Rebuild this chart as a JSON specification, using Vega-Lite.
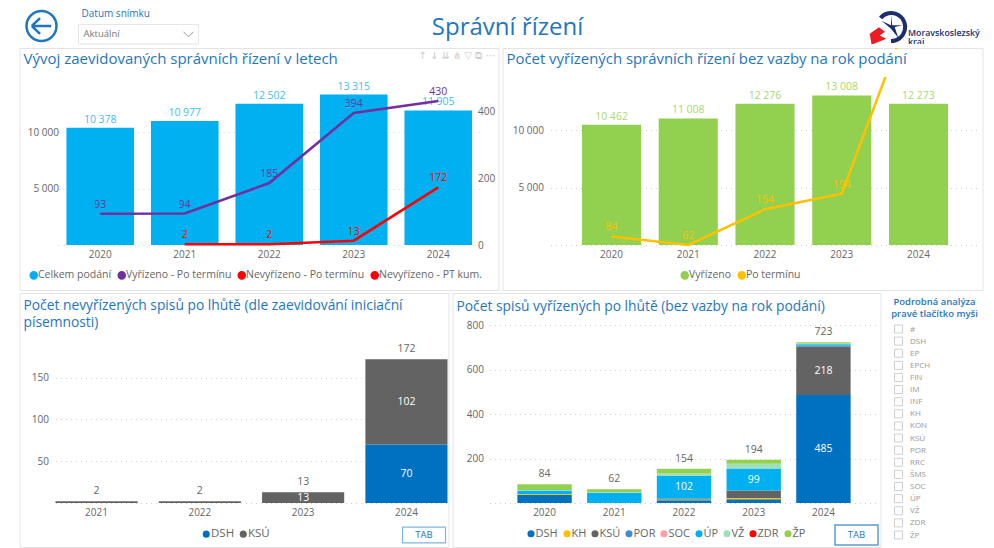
{
"$schema":"https://vega.github.io/schema/vega-lite/v6.json",
"padding":{"left":18.5,"top":-3,"right":0,"bottom":0},
"background":"white",
"spacing":1,
"bounds":"full",
"resolve":{"scale":{"color":"independent"},"legend":{"color":"independent"}},
"config":{
 "font":"Open Sans",
 "view":{"stroke":null},
 "axis":{"domain":false,"ticks":false,"title":null,"labelFont":"Open Sans","labelFontSize":10,"labelColor":"#666666","grid":false},
 "legend":{"labelFont":"Open Sans","labelFontSize":10.5,"labelColor":"#666666"},
 "text":{"font":"Open Sans"},
 "title":{"font":"Open Sans"}
},
"datasets":{
 "p1bars":[
  {"year":"2020","series":"Celkem podání","value":10378,"label":"10 378"},
  {"year":"2021","series":"Celkem podání","value":10977,"label":"10 977"},
  {"year":"2022","series":"Celkem podání","value":12502,"label":"12 502"},
  {"year":"2023","series":"Celkem podání","value":13315,"label":"13 315"},
  {"year":"2024","series":"Celkem podání","value":11905,"label":"11 905"}],
 "p1lines":[
  {"year":"2020","series":"Vyřízeno - Po termínu","value":93},
  {"year":"2021","series":"Vyřízeno - Po termínu","value":94},
  {"year":"2022","series":"Vyřízeno - Po termínu","value":185},
  {"year":"2023","series":"Vyřízeno - Po termínu","value":394},
  {"year":"2024","series":"Vyřízeno - Po termínu","value":430},
  {"year":"2021","series":"Nevyřízeno - PT kum.","value":2},
  {"year":"2022","series":"Nevyřízeno - PT kum.","value":2},
  {"year":"2023","series":"Nevyřízeno - PT kum.","value":13},
  {"year":"2024","series":"Nevyřízeno - PT kum.","value":172}],
 "p2bars":[
  {"year":"2020","series":"Vyřízeno","value":10462,"label":"10 462"},
  {"year":"2021","series":"Vyřízeno","value":11008,"label":"11 008"},
  {"year":"2022","series":"Vyřízeno","value":12276,"label":"12 276"},
  {"year":"2023","series":"Vyřízeno","value":13008,"label":"13 008"},
  {"year":"2024","series":"Vyřízeno","value":12273,"label":"12 273"}],
 "p2line":[
  {"year":"2020","series":"Po termínu","value":84},
  {"year":"2021","series":"Po termínu","value":62},
  {"year":"2022","series":"Po termínu","value":154},
  {"year":"2023","series":"Po termínu","value":194},
  {"year":"2024","series":"Po termínu","value":723}],
 "p3":[
  {"year":"2021","unit":"KSÚ","ord":2,"value":2},
  {"year":"2022","unit":"KSÚ","ord":2,"value":2},
  {"year":"2023","unit":"KSÚ","ord":2,"value":13},
  {"year":"2024","unit":"DSH","ord":1,"value":70},
  {"year":"2024","unit":"KSÚ","ord":2,"value":102}],
 "p3tot":[{"year":"2021","total":2},{"year":"2022","total":2},{"year":"2023","total":13},{"year":"2024","total":172}],
 "p4":[
  {"year":"2020","unit":"DSH","ord":1,"value":36},{"year":"2020","unit":"KH","ord":2,"value":4},{"year":"2020","unit":"ÚP","ord":6,"value":16},{"year":"2020","unit":"VŽ","ord":7,"value":2},{"year":"2020","unit":"ŽP","ord":9,"value":26},
  {"year":"2021","unit":"ÚP","ord":6,"value":46},{"year":"2021","unit":"VŽ","ord":7,"value":2},{"year":"2021","unit":"ŽP","ord":9,"value":14},
  {"year":"2022","unit":"DSH","ord":1,"value":12},{"year":"2022","unit":"KH","ord":2,"value":4},{"year":"2022","unit":"KSÚ","ord":3,"value":3},{"year":"2022","unit":"ÚP","ord":6,"value":102},{"year":"2022","unit":"VŽ","ord":7,"value":12},{"year":"2022","unit":"ŽP","ord":9,"value":21},
  {"year":"2023","unit":"DSH","ord":1,"value":17},{"year":"2023","unit":"KH","ord":2,"value":6},{"year":"2023","unit":"KSÚ","ord":3,"value":33},{"year":"2023","unit":"ÚP","ord":6,"value":99},{"year":"2023","unit":"VŽ","ord":7,"value":21},{"year":"2023","unit":"ŽP","ord":9,"value":18},
  {"year":"2024","unit":"DSH","ord":1,"value":485},{"year":"2024","unit":"KSÚ","ord":3,"value":218},{"year":"2024","unit":"POR","ord":4,"value":4},{"year":"2024","unit":"ÚP","ord":6,"value":6},{"year":"2024","unit":"VŽ","ord":7,"value":4},{"year":"2024","unit":"ŽP","ord":9,"value":6}],
 "p4tot":[{"year":"2020","total":84},{"year":"2021","total":62},{"year":"2022","total":154},{"year":"2023","total":194},{"year":"2024","total":723}],
 "slicer":[{"item":"#"},{"item":"DSH"},{"item":"EP"},{"item":"EPCH"},{"item":"FIN"},{"item":"IM"},{"item":"INF"},{"item":"KH"},{"item":"KON"},{"item":"KSÚ"},{"item":"POR"},{"item":"RRC"},{"item":"ŠMS"},{"item":"SOC"},{"item":"ÚP"},{"item":"VŽ"},{"item":"ZDR"},{"item":"ŽP"}],
 "date":[{"item":"Datum snímku"},{"item":"Aktuální"}],
 "one":[{"item":"x"}]
},
"vconcat":[
{"hconcat":[
 {"width":55,"height":47,"data":{"name":"one"},"layer":[
  {"mark":{"type":"point","shape":"circle","filled":false,"size":900,"stroke":"#1F76BE","strokeWidth":2.5,"opacity":1,"xOffset":-5.5,"yOffset":5.5},"encoding":{}},
  {"mark":{"type":"point","shape":"M-1,0H1M-1,0L-0.15,-0.8M-1,0L-0.15,0.8","filled":false,"size":380,"stroke":"#1F76BE","strokeWidth":2.5,"opacity":1,"xOffset":-5.5,"yOffset":5.5},"encoding":{}}
 ]},
 {"width":120,"height":47,"data":{"name":"date"},
  "encoding":{"y":{"field":"item","type":"nominal","axis":null,"scale":{"type":"band","domain":["Datum snímku","Aktuální"],"range":[8,47],"padding":0}}},
  "layer":[
  {"transform":[{"filter":"datum.item=='Aktuální'"}],"mark":{"type":"rect","fill":"white","stroke":"#e6e6e6"}},
  {"transform":[{"filter":"datum.item=='Aktuální'"}],"mark":{"type":"text","align":"left","dx":-55,"fontSize":9.5,"color":"#777777"},"encoding":{"text":{"field":"item"}}},
  {"transform":[{"filter":"datum.item=='Datum snímku'"}],"mark":{"type":"text","align":"left","dx":-57,"dy":-1,"fontSize":10,"color":"#1F76BE"},"encoding":{"text":{"field":"item"}}},
  {"transform":[{"filter":"datum.item=='Aktuální'"}],"mark":{"type":"point","shape":"M-1,-0.5L0,0.5L1,-0.5","filled":false,"size":100,"stroke":"#999999","opacity":1,"strokeWidth":1,"xOffset":50}}
 ]},
 {"width":610,"height":47,"data":{"values":[{"name":"Správní řízení"}]},
  "mark":{"type":"text","fontSize":24,"color":"#1F76BE","yOffset":7.5},"encoding":{"text":{"field":"name"}}},
 {"width":165,"height":47,"data":{"name":"one"},"layer":[
  {"mark":{"type":"point","shape":"M-0.75,-0.65A1,1 0 1 1 0,1","filled":false,"size":784,"stroke":"#1B2F6E","strokeWidth":4,"opacity":1,"xOffset":-8,"yOffset":6.5,"clip":true},"encoding":{}},
  {"mark":{"type":"point","shape":"M-0.9,-0.2L0.1,-0.9L0.75,-0.4L0.2,0L0.9,0.35L-0.7,1Z","filled":true,"size":340,"fill":"#ED1C24","opacity":1,"xOffset":-21,"yOffset":15,"clip":true},"encoding":{}},
  {"mark":{"type":"point","shape":"M0,-1V-0.15L-0.75,-0.5L0,0.15L0.6,0.9L0.3,0L0.95,-0.15L0.1,-0.15Z","filled":true,"size":600,"fill":"#1B2F6E","opacity":1,"xOffset":-8,"yOffset":6.5,"clip":true},"encoding":{}},
  {"mark":{"type":"text","align":"left","baseline":"middle","dx":9,"dy":12.5,"fontSize":8.8,"fontWeight":600,"lineHeight":9,"color":"#1B2F6E","clip":true},"encoding":{"text":{"value":["Moravskoslezský","kraj"]}}}
 ]}
],"bounds":"flush","spacing":4},
{"hconcat":[
 {"width":479,"height":242,"view":{"stroke":"#e4e4e4"},
  "title":{"text":"Vývoj zaevidovaných správních řízení v letech","anchor":"start","frame":"group","fontSize":15,"fontWeight":"normal","color":"#1F76BE","dx":4,"offset":-19},
  "layer":[
   {"encoding":{"x":{"field":"year","type":"nominal","scale":{"type":"band","domain":["2020","2021","2022","2023","2024"],"range":[38.5,461],"paddingInner":0.2,"paddingOuter":0.1},"axis":{"orient":"bottom","offset":-45,"labelAngle":0,"labelPadding":4}}},
    "layer":[
     {"data":{"name":"p1bars"},"encoding":{"y":{"field":"value","type":"quantitative","scale":{"domain":[0,15000],"range":[197,27.5],"nice":false},"axis":{"orient":"left","offset":-39,"values":[0,5000,10000],"grid":true,"gridColor":"#cfcfcf","gridDash":[1,4],"labelPadding":0,"labelExpr":"datum.value==0?'':replace(format(datum.value,','),',',' ')"}}},
      "layer":[
       {"mark":{"type":"bar"},"encoding":{"color":{"field":"series","type":"nominal","scale":{"domain":["Celkem podání","Vyřízeno - Po termínu","Nevyřízeno - Po termínu","Nevyřízeno - PT kum."],"range":["#00B0F0","#7030A0","#FF0000","#FF0000"]},"legend":{"orient":"none","legendX":9,"legendY":222,"direction":"horizontal","columns":4,"title":null,"symbolType":"circle","symbolSize":50,"labelOffset":-1,"columnPadding":3}}}},
       {"mark":{"type":"text","baseline":"bottom","dy":-3,"fontSize":10.5,"color":"#45BDF0"},"encoding":{"text":{"field":"label"}}}
      ]},
     {"data":{"name":"p1lines"},"encoding":{"y":{"field":"value","type":"quantitative","scale":{"domain":[0,500],"range":[197,29.5],"nice":false},"axis":{"orient":"right","offset":-23,"values":[0,200,400],"labelPadding":2}},
        "color":{"field":"series","type":"nominal","scale":{"domain":["Celkem podání","Vyřízeno - Po termínu","Nevyřízeno - Po termínu","Nevyřízeno - PT kum."],"range":["#00B0F0","#7030A0","#FF0000","#FF0000"]},"legend":null}},
      "layer":[
       {"mark":{"type":"line","strokeWidth":2.5}},
       {"mark":{"type":"text","dy":-9,"fontSize":10.5},"encoding":{"text":{"field":"value"}}}
      ]}
    ],
    "resolve":{"scale":{"y":"independent"},"axis":{"y":"independent"}}},
   {"data":{"values":[{"icons":"↑   ↓   ⇊   ⋔   ▽   ⧉   ⋯"}]},"mark":{"type":"text","fontSize":10,"font":"DejaVu Sans","color":"#cccccc","dx":198,"dy":-113},"encoding":{"text":{"field":"icons"}}}
  ]},
 {"width":480,"height":242,"view":{"stroke":"#e4e4e4"},
  "title":{"text":"Počet vyřízených správních řízení bez vazby na rok podání","anchor":"start","frame":"group","fontSize":14.9,"fontWeight":"normal","color":"#1F76BE","dx":4,"offset":-19},
  "encoding":{"x":{"field":"year","type":"nominal","scale":{"type":"band","domain":["2020","2021","2022","2023","2024"],"range":[48,477],"paddingInner":0.23,"paddingOuter":0.41},"axis":{"orient":"bottom","offset":-45,"labelAngle":0,"labelPadding":4}}},
  "layer":[
   {"data":{"name":"p2bars"},"encoding":{"y":{"field":"value","type":"quantitative","scale":{"domain":[0,15000],"range":[197,24.5],"nice":false},"axis":{"orient":"left","offset":-48,"values":[0,5000,10000],"grid":true,"gridColor":"#cfcfcf","gridDash":[1,4],"labelPadding":7,"labelExpr":"datum.value==0?'':replace(format(datum.value,','),',',' ')"}}},
    "layer":[
     {"mark":{"type":"bar"},"encoding":{"color":{"field":"series","type":"nominal","scale":{"domain":["Vyřízeno","Po termínu"],"range":["#92D050","#FFC000"]},"legend":{"orient":"none","legendX":177,"legendY":222,"direction":"horizontal","columns":2,"title":null,"symbolType":"circle","symbolSize":50,"labelOffset":-1,"columnPadding":3}}}},
     {"mark":{"type":"text","baseline":"bottom","dy":-3,"fontSize":10.5,"color":"#A9D86E"},"encoding":{"text":{"field":"label"}}}
    ]},
   {"data":{"name":"p2line"},"encoding":{"y":{"field":"value","type":"quantitative","axis":null,"scale":{"domain":[62,495],"range":[197,29],"nice":false,"zero":false}},
      "color":{"field":"series","type":"nominal","scale":{"domain":["Vyřízeno","Po termínu"],"range":["#92D050","#FFC000"]},"legend":null}},
    "layer":[
     {"mark":{"type":"line","strokeWidth":2.5,"clip":true}},
     {"data":{"values":[{"year":"2024"}]},"mark":{"type":"rect","fill":"white","stroke":"white","strokeWidth":12},"encoding":{"color":{"value":"white"},"y":{"value":7},"y2":{"value":23}}},
     {"transform":[{"filter":"datum.value<700"}],"mark":{"type":"text","dy":-9,"fontSize":10.5,"color":"#FFC000"},"encoding":{"color":null,"text":{"field":"value"}}}
    ]}
  ],
  "resolve":{"scale":{"y":"independent"},"axis":{"y":"independent"}}}
],"bounds":"flush","spacing":4,"resolve":{"scale":{"color":"independent"},"legend":{"color":"independent"}}},
{"hconcat":[
 {"width":429,"height":254,"view":{"stroke":"#e4e4e4"},
  "title":{"text":["Počet nevyřízených spisů po lhůtě (dle zaevidování iniciační","písemnosti)"],"anchor":"start","frame":"group","fontSize":13.8,"fontWeight":"normal","color":"#1F76BE","lineHeight":17,"baseline":"top","dx":4,"offset":-37},
  "layer":[
   {"encoding":{"x":{"field":"year","type":"nominal","scale":{"type":"band","domain":["2021","2022","2023","2024"],"range":[36,428],"paddingInner":0.205,"paddingOuter":0},"axis":{"orient":"bottom","offset":-44,"labelAngle":0,"labelPadding":4,"labelFontSize":10}}},
    "layer":[
     {"data":{"name":"p3"},"encoding":{"y":{"field":"value","type":"quantitative","stack":"zero","scale":{"domain":[0,188],"range":[210,53],"nice":false},"axis":{"orient":"left","offset":-36,"values":[0,50,100,150],"grid":true,"gridColor":"#cfcfcf","gridDash":[1,4],"labelPadding":7,"labelExpr":"datum.value==0?'':datum.label"}},"order":{"field":"ord","type":"quantitative"}},
      "layer":[
       {"mark":{"type":"bar"},"encoding":{"color":{"field":"unit","type":"nominal","scale":{"domain":["DSH","KSÚ"],"range":["#0070C0","#636363"]},"legend":{"orient":"none","legendX":181,"legendY":235,"direction":"horizontal","columns":2,"title":null,"symbolType":"circle","symbolSize":50,"labelOffset":-1,"columnPadding":3,"labelFontSize":11.5}}}},
       {"mark":{"type":"text","fontSize":10.5,"color":"white"},"encoding":{"y":{"field":"value","type":"quantitative","stack":"zero","bandPosition":0.5},"text":{"condition":{"test":"datum.value>=10","field":"value"},"value":""}}}
      ]},
     {"data":{"name":"p3tot"},"mark":{"type":"text","baseline":"bottom","dy":-5,"fontSize":10.5,"color":"#666666"},"encoding":{"y":{"field":"total","type":"quantitative"},"text":{"field":"total"}}}
    ]},
   {"data":{"values":[{"label":"TAB"}]},"layer":[
     {"mark":{"type":"point","shape":"M-1,-0.37H1V0.37H-1Z","filled":false,"size":1850,"stroke":"#7FB7E0","strokeWidth":1.2,"opacity":1,"xOffset":190,"yOffset":115},"encoding":{}},
     {"mark":{"type":"text","fontSize":9.5,"color":"#1F76BE","dx":190,"dy":115},"encoding":{"text":{"field":"label"}}}
   ]}
  ]},
 {"width":428,"height":254,"view":{"stroke":"#e4e4e4"},
  "title":{"text":"Počet spisů vyřízených po lhůtě (bez vazby na rok podání)","anchor":"start","frame":"group","fontSize":13.8,"fontWeight":"normal","color":"#1F76BE","dx":4,"offset":-20.5},
  "layer":[
   {"encoding":{"x":{"field":"year","type":"nominal","scale":{"type":"band","domain":["2020","2021","2022","2023","2024"],"range":[37,426],"paddingInner":0.22,"paddingOuter":0.4},"axis":{"orient":"bottom","offset":-44,"labelAngle":0,"labelPadding":4,"labelFontSize":10}}},
    "layer":[
     {"data":{"name":"p4"},"encoding":{"y":{"field":"value","type":"quantitative","stack":"zero","scale":{"domain":[0,800],"range":[210,32],"nice":false},"axis":{"orient":"left","offset":-37,"values":[0,200,400,600,800],"grid":true,"gridColor":"#cfcfcf","gridDash":[1,4],"labelPadding":6,"labelExpr":"datum.value==0?'':datum.label"}},"order":{"field":"ord","type":"quantitative"}},
      "layer":[
       {"mark":{"type":"bar"},"encoding":{"color":{"field":"unit","type":"nominal","scale":{"domain":["DSH","KH","KSÚ","POR","SOC","ÚP","VŽ","ZDR","ŽP"],"range":["#0070C0","#FFC000","#636363","#3E8DD0","#FF9DA7","#00B0F0","#A0E0B8","#FF0000","#92D050"]},"legend":{"orient":"none","legendX":73,"legendY":235,"direction":"horizontal","columns":9,"title":null,"symbolType":"circle","symbolSize":50,"labelOffset":-1,"columnPadding":3,"labelFontSize":11}}}},
       {"mark":{"type":"text","fontSize":10.5,"color":"white"},"encoding":{"y":{"field":"value","type":"quantitative","stack":"zero","bandPosition":0.5},"text":{"condition":{"test":"datum.value>=90","field":"value"},"value":""}}}
      ]},
     {"data":{"name":"p4tot"},"mark":{"type":"text","baseline":"bottom","dy":-5,"fontSize":10.5,"color":"#666666"},"encoding":{"y":{"field":"total","type":"quantitative"},"text":{"field":"total"}}}
    ]},
   {"data":{"values":[{"label":"TAB"}]},"layer":[
     {"mark":{"type":"point","shape":"M-1,-0.46H1V0.46H-1Z","filled":false,"size":1850,"stroke":"#5A9FD4","strokeWidth":1.5,"opacity":1,"xOffset":190,"yOffset":115},"encoding":{}},
     {"mark":{"type":"text","fontSize":9.5,"color":"#1F76BE","dx":190,"dy":115},"encoding":{"text":{"field":"label"}}}
   ]}
  ]},
 {"width":28,"height":254,
  "title":{"text":["Podrobná analýza","pravé tlačítko myši"],"anchor":"middle","frame":"group","fontSize":9.5,"fontWeight":600,"color":"#1F76BE","lineHeight":12,"baseline":"top","dx":36,"offset":-25},
  "data":{"name":"slicer"},
  "mark":{"type":"point","shape":"square","filled":false,"size":64,"stroke":"#cfcfcf","strokeWidth":1,"opacity":1},
  "encoding":{"y":{"field":"item","type":"nominal","sort":null,"scale":{"type":"point","range":[36,242],"padding":0},"axis":{"orient":"right","offset":-3,"labelPadding":0,"labelFontSize":8,"labelColor":"#999999"}}}}
],"bounds":"flush","spacing":4,"resolve":{"scale":{"color":"independent"},"legend":{"color":"independent"}}}
]
}
